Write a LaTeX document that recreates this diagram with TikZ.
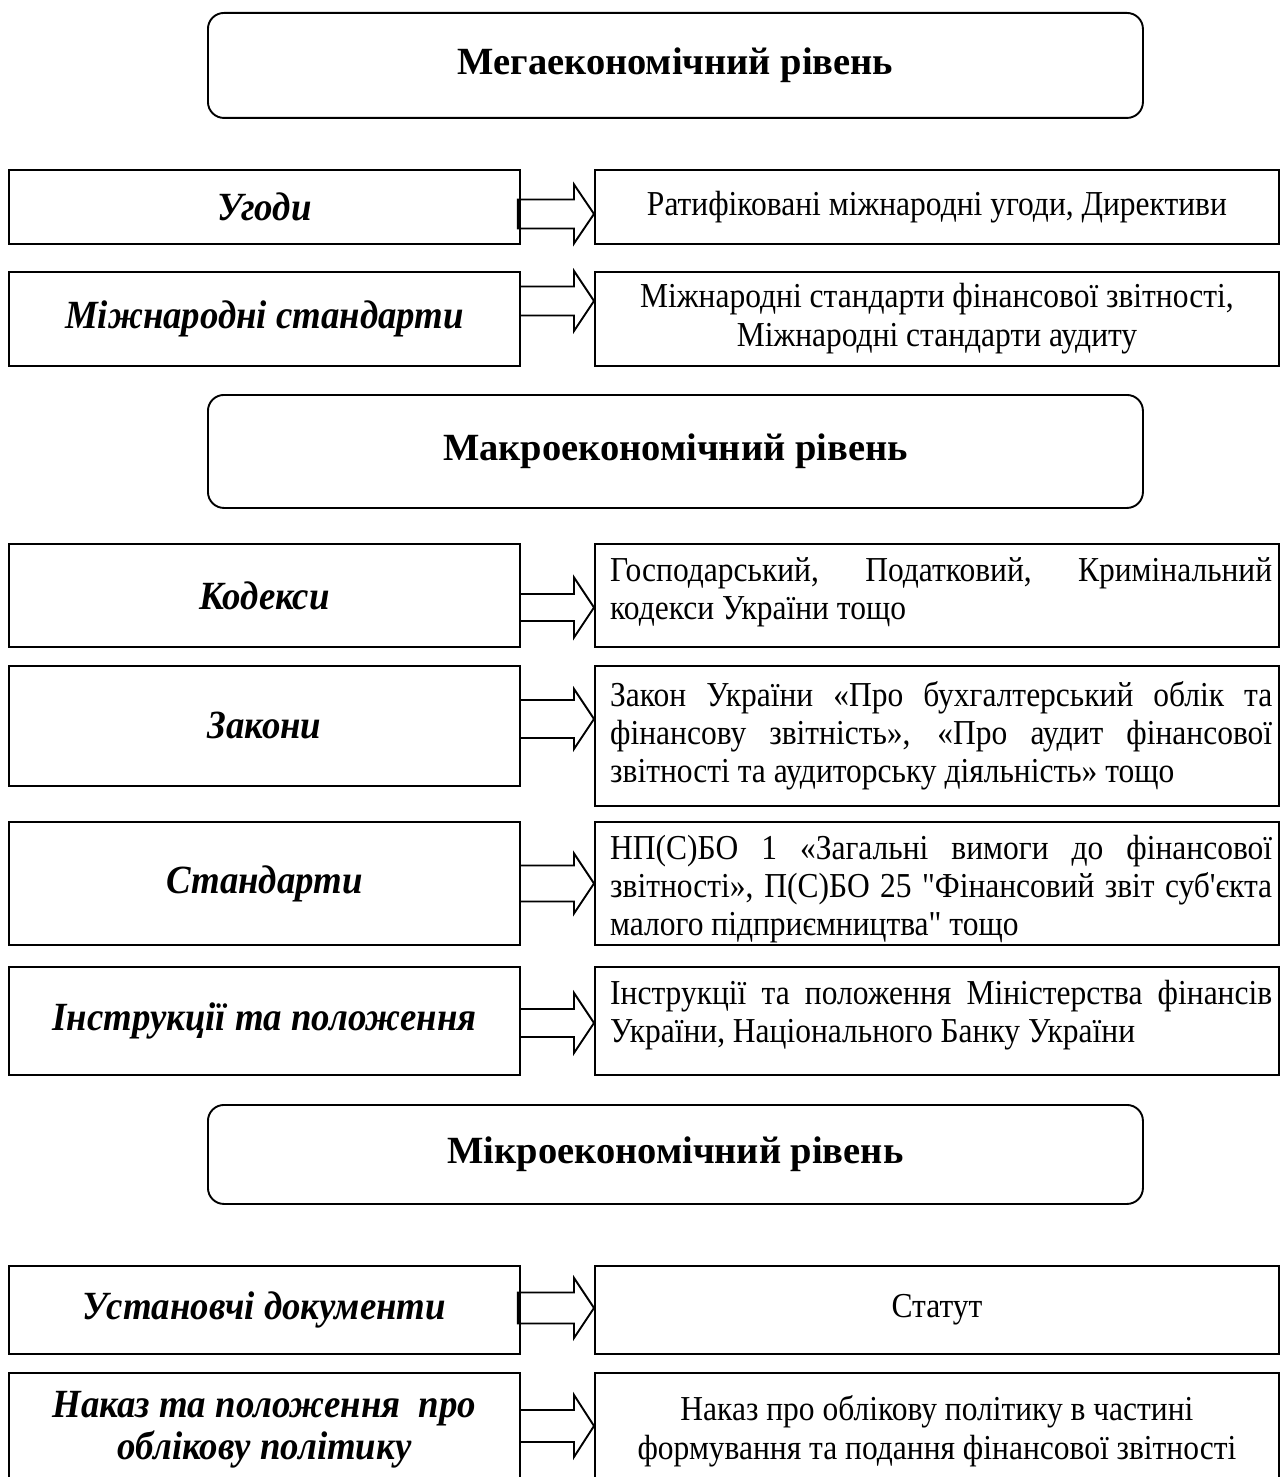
\documentclass[tikz,border=0pt]{standalone}
\usepackage{fontspec}
\setmainfont{Liberation Serif}
% narrow serif faces for the box texts (no TeX quote ligatures, so " and ' stay straight)
\newfontfamily\bodyface[FakeStretch=0.9]{Liberation Serif}
\newfontfamily\labelface[FakeStretch=0.92]{Liberation Serif}
\usetikzlibrary{calc}

% block arrow between a source box and a target box
% #1 source, #2 target, #3 axis offset from source centre, #4 half shaft, #5 half head
\newcommand\blockarrow[5]{%
  \draw[blockarr]
    ($(#1.east)+(0,#3-#4)$) --
    ($(#2.west|-#1.east)+(-20,#3-#4)$) --
    ($(#2.west|-#1.east)+(-20,#3-#5)$) --
    ($(#2.west|-#1.east)+(0,#3)$) --
    ($(#2.west|-#1.east)+(-20,#3+#5)$) --
    ($(#2.west|-#1.east)+(-20,#3+#4)$) --
    ($(#1.east)+(0,#3+#4)$);
}
% same, with the tail end closed a little left of the source border
\newcommand\blockarrowclosed[5]{%
  \draw[blockarr]
    ($(#1.east)+(-3,#3-#4)$) --
    ($(#2.west|-#1.east)+(-20,#3-#4)$) --
    ($(#2.west|-#1.east)+(-20,#3-#5)$) --
    ($(#2.west|-#1.east)+(0,#3)$) --
    ($(#2.west|-#1.east)+(-20,#3+#5)$) --
    ($(#2.west|-#1.east)+(-20,#3+#4)$) --
    ($(#1.east)+(-3,#3+#4)$) -- cycle;
}

\begin{document}
\begin{tikzpicture}[x=1pt,y=-1pt,
  frame/.style={draw, line width=1.9pt, inner sep=0pt, anchor=north west},
  levelbox/.style={frame, rounded corners=16pt, minimum width=935pt},
  leftbox/.style={frame, minimum width=511pt},
  rightbox/.style={frame, minimum width=684pt},
  leveltext/.style={font=\fontsize{38.5}{42}\selectfont\bfseries},
  lefttext/.style={font=\labelface\fontsize{40}{42}\selectfont\bfseries\itshape, align=center},
  righttext/.style={font=\bodyface\fontsize{35}{39}\selectfont, align=center},
  justtext/.style={font=\bodyface\fontsize{35}{38}\selectfont, align=justify,
    text width=662pt, anchor=north west, inner sep=0pt},
  blockarr/.style={line width=1.9pt, line join=miter}
]
\useasboundingbox (0,0) rectangle (1285,1477);
\clip (0,0) rectangle (1285,1477);
\fill[white] (0,0) rectangle (1285,1477);

% ---------- mega level ----------
\node[levelbox, minimum height=105pt] (mega) at (207,12) {};
\node[leveltext] at (mega.center) {Мегаекономічний рівень};

\node[leftbox, minimum height=74pt, lefttext] (l1) at (8,169) {Угоди};
\node[rightbox, minimum height=74pt, righttext] (r1) at (594,169)
  {Ратифіковані міжнародні угоди, Директиви};
\blockarrowclosed{l1}{r1}{7}{14.5}{29.5}

\node[leftbox, minimum height=94pt, lefttext] (l2) at (8,271) {Міжнародні стандарти};
\node[rightbox, minimum height=94pt, righttext] (r2) at (594,271)
  {Міжнародні стандарти фінансової звітності,\\ Міжнародні стандарти аудиту};
\blockarrow{l2}{r2}{-18}{14.5}{30}

% ---------- macro level ----------
\node[levelbox, minimum height=113pt] (macro) at (207,394) {};
\node[leveltext] at (macro.center) {Макроекономічний рівень};

\node[leftbox, minimum height=103pt, lefttext] (l3) at (8,543) {Кодекси};
\node[rightbox, minimum height=103pt] (r3) at (594,543) {};
\node[justtext] at ($(r3.north west)+(16,14)$)
  {Господарський, Податковий, Кримінальний\linebreak кодекси України тощо};
\blockarrow{l3}{r3}{12}{13.5}{30}

\node[leftbox, minimum height=120pt, lefttext] (l4) at (8,665) {Закони};
\node[rightbox, minimum height=140pt] (r4) at (594,665) {};
\node[justtext] at ($(r4.north west)+(16,16)$)
  {Закон України «Про бухгалтерський облік та\linebreak фінансову звітність», «Про аудит фінансової\linebreak звітності та аудиторську діяльність» тощо};
\blockarrow{l4}{r4}{-7}{19}{30}

\node[leftbox, minimum height=123pt, lefttext] (l5) at (8,821) {Стандарти};
\node[rightbox, minimum height=123pt] (r5) at (594,821) {};
\node[justtext] at ($(r5.north west)+(16,14)$)
  {НП(С)БО 1 «Загальні вимоги до фінансової\linebreak звітності», П(С)БО 25 "Фінансовий звіт суб'єкта\linebreak малого підприємництва" тощо};
\blockarrow{l5}{r5}{0}{18}{30}

\node[leftbox, minimum height=108pt, lefttext] (l6) at (8,966) {Інструкції та положення};
\node[rightbox, minimum height=108pt] (r6) at (594,966) {};
\node[justtext] at ($(r6.north west)+(16,14)$)
  {Інструкції та положення Міністерства фінансів\linebreak України, Національного Банку України};
\blockarrow{l6}{r6}{2}{14}{30}

% ---------- micro level ----------
\node[levelbox, minimum height=99pt] (micro) at (207,1104) {};
\node[leveltext] at (micro.center) {Мікроекономічний рівень};

\node[leftbox, minimum height=88pt, lefttext] (l7) at (8,1265) {Установчі документи};
\node[rightbox, minimum height=88pt, righttext] (r7) at (594,1265) {Статут};
\blockarrowclosed{l7}{r7}{-2}{15.5}{30}

\node[leftbox, minimum height=128pt] (l8) at (8,1372) {};
\node[lefttext, anchor=north] at ($(l8.north)+(0,16)$) {Наказ та положення\ \ про\\ облікову політику};
\node[rightbox, minimum height=128pt] (r8) at (594,1372) {};
\node[righttext, anchor=north] at ($(r8.north)+(0,20)$)
  {Наказ про облікову політику в частині\\ формування та подання фінансової звітності};
\blockarrow{l8}{r8}{-11}{16}{31}
\end{tikzpicture}
\end{document}
